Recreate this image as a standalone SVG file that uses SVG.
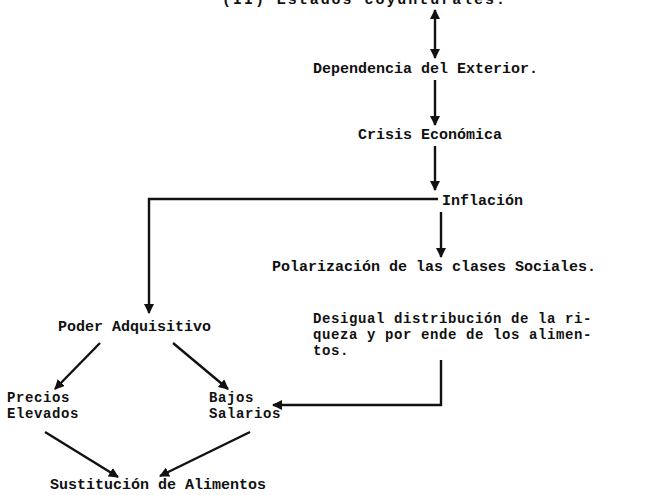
<svg xmlns="http://www.w3.org/2000/svg" width="657" height="495" viewBox="0 0 657 495">
<style>
text{font-family:"Liberation Mono","DejaVu Sans Mono",monospace;font-weight:bold;font-size:15px;fill:#111}
text.m{font-size:14px;letter-spacing:0.6px}
.c{fill:none;stroke:#111;stroke-width:2.4}
</style>
<defs>
<marker id="ah" viewBox="0 0 10 10" refX="9" refY="5" markerWidth="4.2" markerHeight="4.2" orient="auto-start-reverse" markerUnits="strokeWidth">
<path d="M0,0 L10,5 L0,10 z" fill="#111"/>
</marker>
</defs>
<rect width="657" height="495" fill="#fff"/>
<g id="top"><text x="222" y="4" textLength="283">(II) Estados coyunturales.</text></g>
<g id="dependencia"><text x="313" y="73">Dependencia del Exterior.</text></g>
<g id="crisis"><text x="358" y="139">Crisis Económica</text></g>
<g id="inflacion"><text x="442" y="205">Inflación</text></g>
<g id="polarizacion"><text x="272" y="271">Polarización de las clases Sociales.</text></g>
<g id="poder"><text x="58" y="331">Poder Adquisitivo</text></g>
<g id="desigual"><text class="m" x="313" y="323">Desigual distribución de la ri-</text><text class="m" x="313" y="339">queza y por ende de los alimen-</text><text class="m" x="313" y="355">tos.</text></g>
<g id="precios"><text class="m" x="7" y="402">Precios</text><text class="m" x="7" y="418">Elevados</text></g>
<g id="bajos"><text class="m" x="209" y="402">Bajos</text><text class="m" x="209" y="418">Salarios</text></g>
<g id="sustitucion"><text x="50" y="489">Sustitución de Alimentos</text></g>
<g id="connectors">
<path class="c" d="M435,58 L435,10" marker-start="url(#ah)" marker-end="url(#ah)"/>
<path class="c" d="M435,80 L435,125" marker-end="url(#ah)"/>
<path class="c" d="M435,146 L435,190" marker-end="url(#ah)"/>
<path class="c" d="M438,199 L149,199 L149,313" marker-end="url(#ah)"/>
<path class="c" d="M441,212 L441,257" marker-end="url(#ah)"/>
<path class="c" d="M441,360 L441,405 L273,405" marker-end="url(#ah)"/>
<path class="c" d="M100,343 L55,389" marker-end="url(#ah)"/>
<path class="c" d="M173,343 L228,389" marker-end="url(#ah)"/>
<path class="c" d="M45,432 L118,477" marker-end="url(#ah)"/>
<path class="c" d="M250,432 L160,476" marker-end="url(#ah)"/>
</g>
</svg>
